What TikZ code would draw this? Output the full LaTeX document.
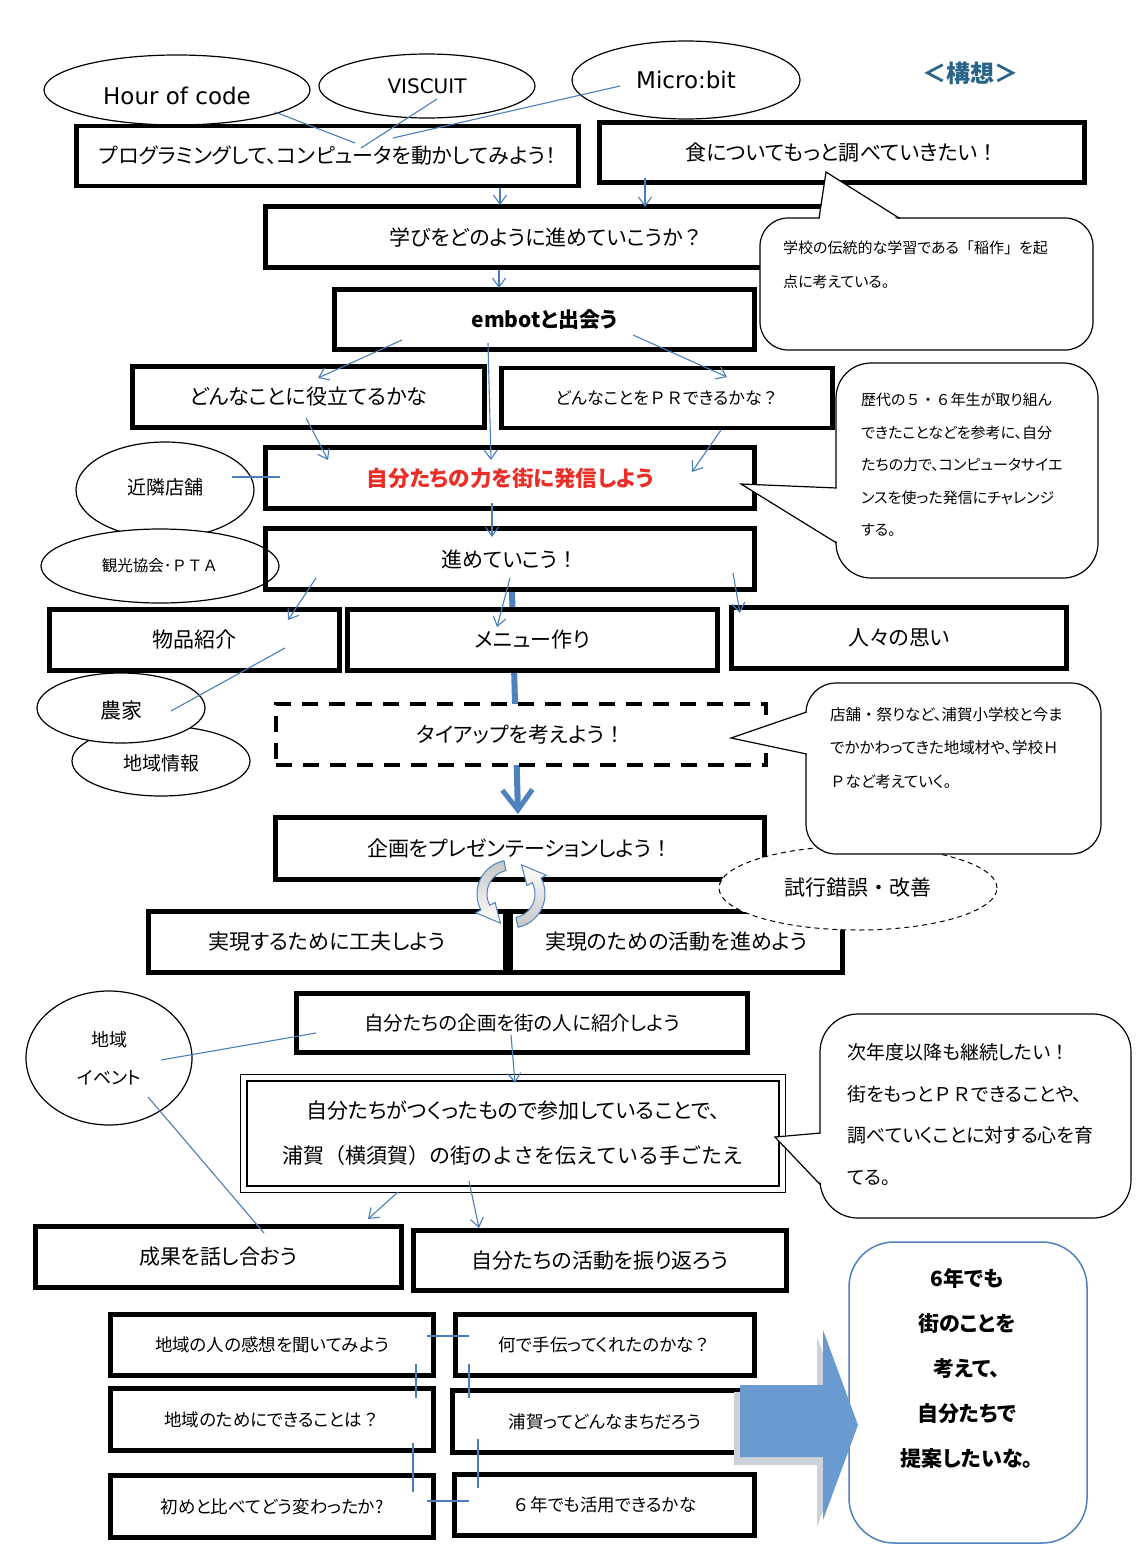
\documentclass[tikz,border=0pt]{standalone}
\usepackage{fontspec}
\setmainfont{Noto Sans CJK JP}[RawFeature=+palt]
\newfontfamily\jpfix{Noto Sans CJK JP}
\newfontfamily\latinfont{DejaVu Sans}
\usetikzlibrary{shapes.geometric,arrows.meta,calc}
\definecolor{ablue}{RGB}{74,126,187}
\definecolor{tblue}{RGB}{79,129,189}
\definecolor{redtxt}{RGB}{235,45,38}
\definecolor{kcol}{RGB}{40,100,135}
\definecolor{barrow}{RGB}{106,155,208}
\definecolor{bshadow}{RGB}{205,210,218}
\newcommand{\fsz}[1]{\fontsize{#1pt}{#1pt}\selectfont}
\newcommand{\shiftdown}[2]{\raisebox{-#1}[\height][\depth]{#2}}
\newcommand{\fw}[1]{{\jpfix #1}}
\begin{document}
\begin{tikzpicture}[x=1pt,y=-1pt,
  box/.style={rectangle, draw=black, line width=4.5pt, fill=white, inner sep=0pt, align=center, font=\fsz{21}},
  sbox/.style={box, font=\fsz{17.5}},
  ell/.style={ellipse, draw=black, line width=1.2pt, fill=white, inner sep=0pt, align=center},
  callbody/.style={rectangle, draw=black, line width=1.2pt, fill=white},
  callline/.style={draw=black, line width=1.2pt, line join=miter},
  calltext/.style={anchor=west, align=left, inner sep=0pt},
  bline/.style={draw=ablue, line width=1.1pt},
  arr/.style={bline, -{Straight Barb[length=9pt,width=13pt]}},
]
\useasboundingbox (0,0) rectangle (1144,1568);
\fill[white] (0,0) rectangle (1144,1568);

% ---------- thick blue connector (behind boxes)
\coordinate (tA) at (512,592);
\coordinate (tB) at (518,814);
\draw[draw=tblue, line width=6pt, -{Straight Barb[length=20pt,width=30pt,line width=5pt]}] (tA) -- (tB);

% ---------- ellipses
\node[ell, minimum width=266pt, minimum height=70pt, font=\latinfont\fsz{23}] (e1) at (177,90) {\shiftdown{6pt}{Hour of code}};
\node[ell, minimum width=216pt, minimum height=64pt, font=\latinfont\fsz{20}] (e2) at (427,86) {VISCUIT};
\node[ell, minimum width=228pt, minimum height=78pt, font=\latinfont\fsz{23}] (e3) at (686,80) {Micro:bit};
\node[ell, minimum width=178pt, minimum height=96pt, font=\fsz{19}] (e4) at (165,490) {\raisebox{6pt}{近隣店舗}};
\node[ell, minimum width=238pt, minimum height=74pt, font=\fsz{15.5}] (e5) at (160,566) {観光協会･\fw{ＰＴＡ}};
\node[ell, minimum width=178pt, minimum height=70pt, font=\fsz{19}] (e7) at (161,761) {\shiftdown{2pt}{地域情報}};
\node[ell, minimum width=168pt, minimum height=70pt, font=\fsz{21}] (e6) at (121,708) {\shiftdown{3pt}{農家}};
\node[ell, minimum width=166pt, minimum height=134pt, font=\fontsize{18pt}{38pt}\selectfont] (e8) at (109,1058) {地域\\イベント};

% ---------- boxes
\node[box, minimum width=502pt, minimum height=60pt] (b1) at (327.5,156) {プログラミングして、コンピュータを動かしてみよう！};
\node[box, minimum width=485pt, minimum height=60pt] (b2) at (842,152.5) {食についてもっと調べていきたい\fw{！}};
\node[box, minimum width=562pt, minimum height=61pt] (b3) at (546.5,237) {学びをどのように進めていこうか\fw{？}};
\node[box, minimum width=420pt, minimum height=60pt, font=\bfseries\fsz{21}] (b4) at (544.5,319.5) {embotと出会う};
\node[box, minimum width=352pt, minimum height=61pt] (b5) at (308.5,397) {どんなことに役立てるかな};
\node[box, minimum width=331pt, minimum height=60pt, font=\fsz{17}] (b6) at (667,398) {どんなことを\fw{ＰＲ}できるかな\fw{？}};
\node[box, minimum width=489pt, minimum height=61pt, font=\bfseries\fsz{21.5}, text=redtxt] (b7) at (510,478) {自分たちの力を街に発信しよう};
\node[box, fill=none, minimum width=489pt, minimum height=61pt] (b8) at (510,559) {進めていこう\fw{！}};
\node[box, minimum width=290pt, minimum height=61pt] (b9) at (194.5,640) {物品紹介};
\node[box, minimum width=370pt, minimum height=61pt] (b10) at (532.5,640) {メニュー作り};
\node[box, minimum width=335pt, minimum height=61pt] (b11) at (899,638) {人々の思い};
\node[box, line width=4pt, dash pattern=on 16pt off 11pt, minimum width=490pt, minimum height=61pt] (b12) at (521,734.5) {タイアップを考えよう\fw{！}};
\node[box, minimum width=489pt, minimum height=62pt] (b13) at (520,848.5) {企画をプレゼンテーションしよう\fw{！}};
\node[box, minimum width=357pt, minimum height=61pt] (b14) at (327,942) {実現するために工夫しよう};
\node[box, minimum width=332pt, minimum height=61pt] (b15) at (676.5,942) {実現のための活動を進めよう};
\node[box, minimum width=451pt, minimum height=59pt, font=\fsz{19.5}] (b16) at (522,1023) {自分たちの企画を街の人に紹介しよう};
\node[box, line width=2.8pt, minimum width=532pt, minimum height=105pt, font=\fontsize{21}{45}\selectfont] (b17) at (513,1133.5) {自分たちがつくったもので参加していることで、\\{\jpfix 浦賀（横須賀）の街のよさを伝えている手ごたえ}};
\draw[line width=1.2pt] ($(b17.north west)+(-5,-5)$) rectangle ($(b17.south east)+(5,5)$);
\node[box, minimum width=366pt, minimum height=61pt] (b18) at (218.5,1257) {成果を話し合おう};
\node[box, minimum width=373pt, minimum height=60pt] (b19) at (600,1260.5) {自分たちの活動を振り返ろう};
\node[sbox, minimum width=323pt, minimum height=61pt] (b20) at (272,1345) {地域の人の感想を聞いてみよう};
\node[sbox, minimum width=299pt, minimum height=61pt] (b21) at (605,1345) {何で手伝ってくれたのかな\fw{？}};
\node[sbox, minimum width=323pt, minimum height=62pt] (b22) at (272,1419.5) {地域のためにできることは\fw{？}};
\node[sbox, minimum width=305pt, minimum height=62pt] (b23) at (605,1421.5) {浦賀ってどんなまちだろう};
\node[sbox, minimum width=323pt, minimum height=62pt] (b24) at (272,1506.5) {初めと比べてどう変わったか?};
\node[sbox, minimum width=300pt, minimum height=61pt] (b25) at (604.5,1505) {\fw{６}年でも活用できるかな};

% ---------- rounded result box
\node[rectangle, draw=tblue, line width=1.5pt, fill=white, rounded corners=45pt, minimum width=238pt, minimum height=301pt] (rb) at (968,1392.5) {};
\node[align=center, inner sep=0pt, font=\bfseries\fontsize{21}{45}\selectfont] (rbt) at (967,1368) {6年でも\\街のことを\\考えて、\\自分たちで\\提案したいな。};

% ---------- dashed ellipse
\node[ell, line width=1pt, dash pattern=on 5pt off 4pt, minimum width=278pt, minimum height=84pt, font=\fsz{21}] (e9) at (858,888) {試行錯誤\fw{・}改善};

% ---------- callouts
\node[callbody, rounded corners=28pt, minimum width=333pt, minimum height=132pt] (c1) at (926.5,284) {};
\fill[white] (826,172) -- (819,221) -- (900,221) -- cycle;
\draw[callline] (819,218.6) -- (826,172) -- (900,218.6);
\node[calltext, font=\fontsize{15}{34}\selectfont] (c1t) at (783,265) {学校の伝統的な学習である\fw{「}稲作\fw{」}を起\\点に考えている。};

\node[callbody, rounded corners=35pt, minimum width=262pt, minimum height=215pt] (c2) at (967,470.5) {};
\fill[white] (741,484) -- (839,488) -- (839,543) -- cycle;
\draw[callline] (836.6,488) -- (741,484) -- (836.6,543);
\node[calltext, font=\fontsize{15}{32.5}\selectfont] (c2t) at (861,465) {歴代の\fw{５・６}年生が取り組ん\\できたことなどを参考に、自分\\たちの力で、コンピュータサイエ\\ンスを使った発信にチャレンジ\\する。};

\node[callbody, rounded corners=30pt, minimum width=295pt, minimum height=171pt] (c3) at (953.5,768.5) {};
\fill[white] (731,738) -- (809,712) -- (809,754) -- cycle;
\draw[callline] (806.6,712) -- (731,738) -- (806.6,754);
\node[calltext, font=\fontsize{15.5}{33.5}\selectfont] (c3t) at (830,748) {店舗\fw{・}祭りなど、浦賀小学校と今ま\\でかかわってきた地域材や、学校\fw{Ｈ}\\\fw{Ｐ}など考えていく。};

\node[callbody, rounded corners=38pt, minimum width=311pt, minimum height=204pt] (c4) at (975.5,1116) {};
\fill[white] (775,1137) -- (823,1133) -- (823,1185) -- cycle;
\draw[callline] (820.6,1133) -- (775,1137) -- (820.6,1185);
\node[calltext, font=\fontsize{19}{41.7}\selectfont] (c4t) at (847,1114.5) {次年度以降も継続したい\fw{！}\\街をもっと\fw{ＰＲ}できることや、\\調べていくことに対する心を育\\てる。};

% ---------- circular arrows
\coordinate (C) at (511,894);
\draw[draw=tblue, line width=1pt, top color=gray!45, bottom color=white]
  ($(C)+(102:34pt)$) arc[start angle=102, end angle=208, radius=34pt]
  -- ($(C)+(208:40pt)$) -- ($(C)+(250:31pt)$) -- ($(C)+(208:18pt)$)
  -- ($(C)+(208:24pt)$) arc[start angle=208, end angle=102, radius=24pt] -- cycle;
\draw[draw=tblue, line width=1pt, top color=white, bottom color=gray!45]
  ($(C)+(282:34pt)$) arc[start angle=282, end angle=388, radius=34pt]
  -- ($(C)+(28:40pt)$) -- ($(C)+(70:31pt)$) -- ($(C)+(28:18pt)$)
  -- ($(C)+(28:24pt)$) arc[start angle=388, end angle=282, radius=24pt] -- cycle;

% ---------- block arrow
\fill[bshadow] (734,1392) -- (817,1392) -- (817,1337) -- (852,1432) -- (817,1527) -- (817,1465) -- (734,1465) -- cycle;
\fill[barrow] (740,1385) -- (823,1385) -- (823,1330) -- (858,1425) -- (823,1520) -- (823,1457) -- (740,1457) -- cycle;

% ---------- title
\node[font=\bfseries\fsz{24}, text=kcol] (title) at (970,73) {＜構想＞};

% ---------- thin lines
\coordinate (hA) at (275,112); \coordinate (hB) at (355,143);
\coordinate (vA) at (437,99);  \coordinate (vB) at (361,148);
\coordinate (mA) at (620,86);  \coordinate (mB) at (393,138);
\coordinate (kA) at (232,477); \coordinate (kB) at (280,477);
\coordinate (nA) at (285,648); \coordinate (nB) at (171,711);
\coordinate (iA) at (316,1033); \coordinate (iB) at (161,1060);
\coordinate (jA) at (148,1097); \coordinate (jB) at (264,1233);
\draw[bline] (hA) -- (hB);
\draw[bline] (vA) -- (vB);
\draw[bline] (mA) -- (mB);
\draw[bline] (kA) -- (kB);
\draw[bline] (nA) -- (nB);
\draw[bline] (iA) -- (iB);
\draw[bline] (jA) -- (jB);

\coordinate (q1) at (427,1336); \coordinate (q2) at (469,1336);
\coordinate (q3) at (416,1364); \coordinate (q4) at (416,1398);
\coordinate (q5) at (469,1364); \coordinate (q6) at (469,1398);
\coordinate (q7) at (413,1443); \coordinate (q8) at (413,1492);
\coordinate (q9) at (478,1439); \coordinate (q10) at (478,1488);
\coordinate (q11) at (427,1501); \coordinate (q12) at (469,1501);
\draw[bline] (q1) -- (q2);
\draw[bline] (q3) -- (q4);
\draw[bline] (q5) -- (q6);
\draw[bline] (q7) -- (q8);
\draw[bline] (q9) -- (q10);
\draw[bline] (q11) -- (q12);

% ---------- thin arrows
\coordinate (a1A) at (500,188); \coordinate (a1B) at (500,205);
\coordinate (a2A) at (645,178); \coordinate (a2B) at (645,207);
\coordinate (a3A) at (499,270); \coordinate (a3B) at (499,288);
\coordinate (a4A) at (402,340); \coordinate (a4B) at (318,378);
\coordinate (a5A) at (488,343); \coordinate (a5B) at (491,460);
\coordinate (a6A) at (633,335); \coordinate (a6B) at (727,377);
\coordinate (a7A) at (306,418); \coordinate (a7B) at (328,460);
\coordinate (a8A) at (721,430); \coordinate (a8B) at (692,472);
\coordinate (a9A) at (492,503); \coordinate (a9B) at (492,537);
\coordinate (a10A) at (316,578); \coordinate (a10B) at (288,620);
\coordinate (a11A) at (510,578); \coordinate (a11B) at (497,627);
\coordinate (a12A) at (733,573); \coordinate (a12B) at (740,613);
\coordinate (a13A) at (511,1035); \coordinate (a13B) at (515,1083);
\coordinate (a14A) at (398,1192); \coordinate (a14B) at (368,1219);
\coordinate (a15A) at (469,1181); \coordinate (a15B) at (479,1228);
\foreach \i in {1,...,15} {\draw[arr] (a\i A) -- (a\i B);}
\end{tikzpicture}
\end{document}
